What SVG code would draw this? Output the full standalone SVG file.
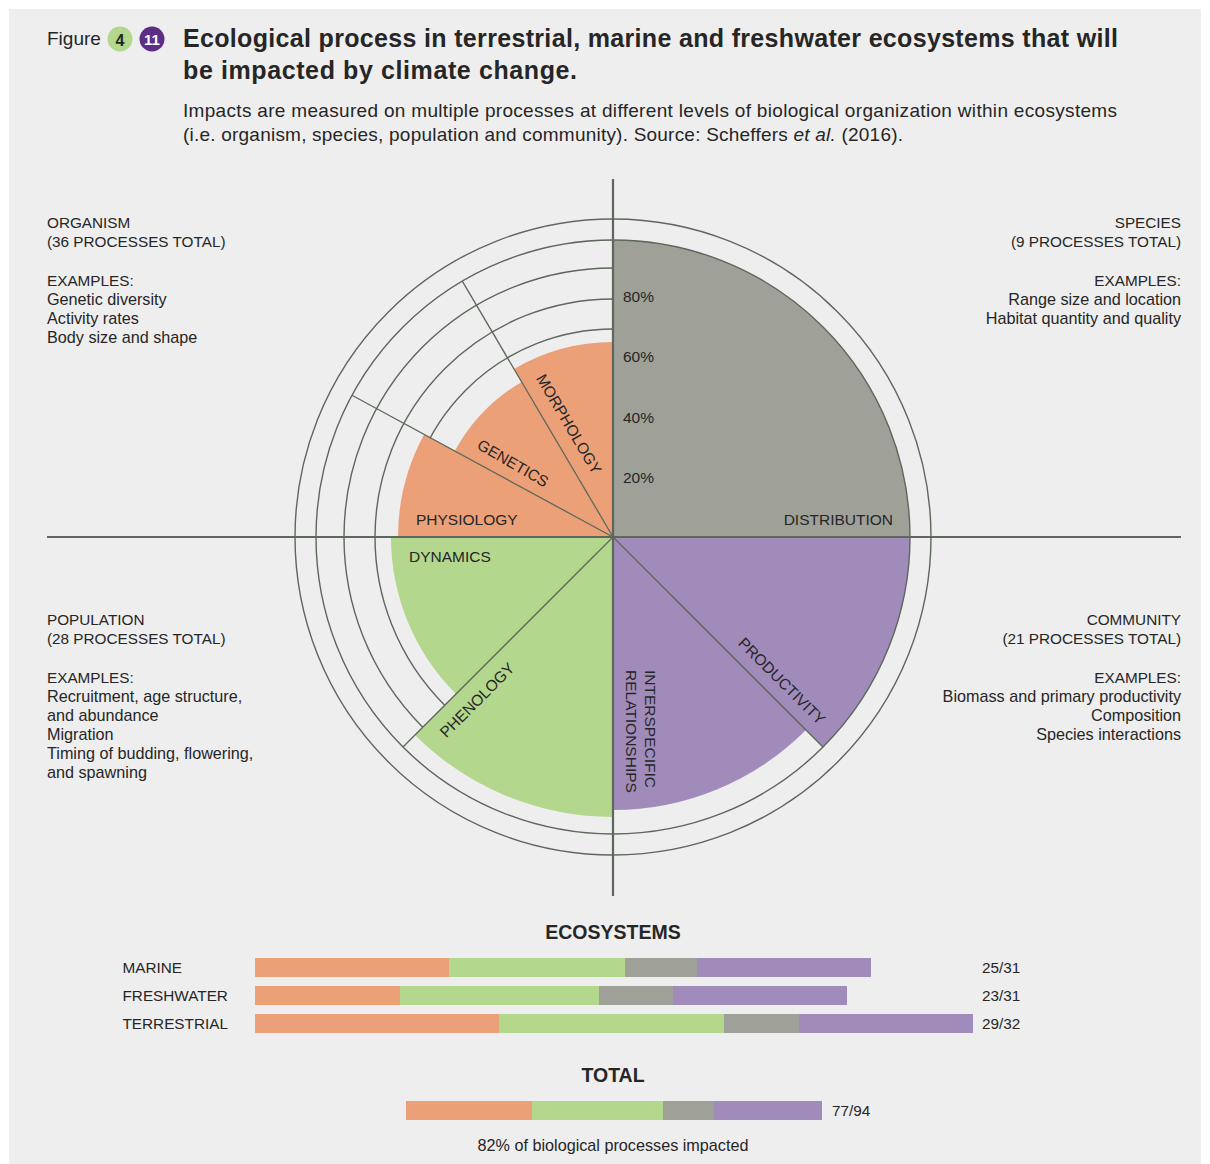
<svg xmlns="http://www.w3.org/2000/svg" width="1210" height="1164" viewBox="0 0 1210 1164">
<style>
text{font-family:"Liberation Sans",Arial,sans-serif;fill:#262626}
.lb{font-size:15.3px}
.lc{font-size:16.2px}
.pl{font-size:15.5px}
.hd{font-size:19.5px;font-weight:bold;text-anchor:middle}
.ring{fill:none;stroke:#5d675b;stroke-width:1.4}
.div{stroke:#5d675b;stroke-width:1.3;fill:none}
.axis{stroke:#5d675b;stroke-width:2.2;fill:none}
.or{fill:#eca078}.gr{fill:#b3d78c}.gy{fill:#9fa199}.pu{fill:#a08bbb}
.end{text-anchor:end}
</style>
<rect x="0" y="0" width="1210" height="1164" fill="#ffffff"/>
<rect x="9" y="9" width="1192" height="1155" fill="#eeeeee"/>

<g id="header">
  <text x="47" y="45" style="font-size:19px">Figure</text>
  <circle cx="120" cy="39" r="12.5" fill="#b3d78c"/>
  <text x="120" y="45.5" style="font-size:16px;font-weight:bold;text-anchor:middle">4</text>
  <circle cx="152" cy="39" r="12.5" fill="#5e2d84"/>
  <text x="152" y="45" style="font-size:15px;font-weight:bold;text-anchor:middle;fill:#ffffff">11</text>
  <text x="183" y="47" style="font-size:25px;font-weight:bold" textLength="935" lengthAdjust="spacing">Ecological process in terrestrial, marine and freshwater ecosystems that will</text>
  <text x="183" y="79" style="font-size:25px;font-weight:bold" textLength="394" lengthAdjust="spacing">be impacted by climate change.</text>
  <text x="183" y="117" style="font-size:19px" textLength="934" lengthAdjust="spacing">Impacts are measured on multiple processes at different levels of biological organization within ecosystems</text>
  <text x="183" y="141" style="font-size:19px" textLength="720" lengthAdjust="spacing">(i.e. organism, species, population and community). Source: Scheffers <tspan font-style="italic">et al.</tspan> (2016).</text>
</g>

<g id="rings-inner">
  <circle class="ring" cx="613" cy="537" r="208"/>
  <circle class="ring" cx="613" cy="537" r="238"/>
  <circle class="ring" cx="613" cy="537" r="269"/>
</g>

<g id="node-distribution">
  <path class="gy" d="M613,537 L613,240 A297,297 0 0 1 910,537 Z"/>
  <text class="pl end" x="893" y="525">DISTRIBUTION</text>
</g>
<g id="node-productivity">
  <path class="pu" d="M613,537 L910,537 A297,297 0 0 1 823,747 Z"/>
  <text class="pl" transform="translate(782,681) rotate(45)" text-anchor="middle" y="5.5">PRODUCTIVITY</text>
</g>
<g id="node-interspecific">
  <path class="pu" d="M613,537 L806,730 A273,273 0 0 1 613,810 Z"/>
  <text class="pl" transform="translate(645,670) rotate(90)"><tspan x="0" y="0">INTERSPECIFIC</tspan><tspan x="0" y="19">RELATIONSHIPS</tspan></text>
</g>
<g id="node-phenology">
  <path class="gr" d="M613,537 L613,817 A280,280 0 0 1 415,735 Z"/>
  <text class="pl" transform="translate(477,700) rotate(-45)" text-anchor="middle" y="5.5">PHENOLOGY</text>
</g>
<g id="node-dynamics">
  <path class="gr" d="M613,537 L456,694 A222,222 0 0 1 391,537 Z"/>
  <text class="pl" x="409" y="562">DYNAMICS</text>
</g>
<g id="node-physiology">
  <path class="or" d="M613,537 L398,537 A215,215 0 0 1 424.1,434.4 Z"/>
  <text class="pl" x="416" y="525">PHYSIOLOGY</text>
</g>
<g id="node-genetics">
  <path class="or" d="M613,537 L454.8,451.1 A180,180 0 0 1 521.6,381.9 Z"/>
  <text class="pl" transform="translate(513,463) rotate(30)" text-anchor="middle" y="5.5">GENETICS</text>
</g>
<g id="node-morphology">
  <path class="or" d="M613,537 L514,369 A195,195 0 0 1 613,342 Z"/>
  <text class="pl" transform="translate(569,424) rotate(59.5)" text-anchor="middle" y="5.5">MORPHOLOGY</text>
</g>

<g id="connectors">
  <circle class="ring" cx="613" cy="537" r="297"/>
  <circle class="ring" cx="613" cy="537" r="318"/>
  <line class="div" x1="613" y1="537" x2="352" y2="395.3"/>
  <line class="div" x1="613" y1="537" x2="462.3" y2="281.1"/>
  <line class="div" x1="613" y1="537" x2="403" y2="747"/>
  <line class="div" x1="613" y1="537" x2="823" y2="747"/>
  <line class="axis" x1="613" y1="179" x2="613" y2="896"/>
  <line class="axis" x1="47" y1="537" x2="1181" y2="537"/>
</g>

<g id="scale">
  <text class="pl" x="623" y="302">80%</text>
  <text class="pl" x="623" y="362">60%</text>
  <text class="pl" x="623" y="423">40%</text>
  <text class="pl" x="623" y="483">20%</text>
</g>

<g id="quad-organism">
  <text class="lb" x="47" y="228">ORGANISM</text>
  <text class="lb" x="47" y="247">(36 PROCESSES TOTAL)</text>
  <text class="lb" x="47" y="286">EXAMPLES:</text>
  <text class="lc" x="47" y="305">Genetic diversity</text>
  <text class="lc" x="47" y="324">Activity rates</text>
  <text class="lc" x="47" y="343">Body size and shape</text>
</g>
<g id="quad-species">
  <text class="lb end" x="1181" y="228">SPECIES</text>
  <text class="lb end" x="1181" y="247">(9 PROCESSES TOTAL)</text>
  <text class="lb end" x="1181" y="286">EXAMPLES:</text>
  <text class="lc end" x="1181" y="305">Range size and location</text>
  <text class="lc end" x="1181" y="324">Habitat quantity and quality</text>
</g>
<g id="quad-population">
  <text class="lb" x="47" y="625">POPULATION</text>
  <text class="lb" x="47" y="644">(28 PROCESSES TOTAL)</text>
  <text class="lb" x="47" y="683">EXAMPLES:</text>
  <text class="lc" x="47" y="702">Recruitment, age structure,</text>
  <text class="lc" x="47" y="721">and abundance</text>
  <text class="lc" x="47" y="740">Migration</text>
  <text class="lc" x="47" y="759">Timing of budding, flowering,</text>
  <text class="lc" x="47" y="778">and spawning</text>
</g>
<g id="quad-community">
  <text class="lb end" x="1181" y="625">COMMUNITY</text>
  <text class="lb end" x="1181" y="644">(21 PROCESSES TOTAL)</text>
  <text class="lb end" x="1181" y="683">EXAMPLES:</text>
  <text class="lc end" x="1181" y="702">Biomass and primary productivity</text>
  <text class="lc end" x="1181" y="721">Composition</text>
  <text class="lc end" x="1181" y="740">Species interactions</text>
</g>

<g id="ecosystems">
  <text class="hd" x="613" y="939">ECOSYSTEMS</text>
  <text class="lb" x="122.5" y="973">MARINE</text>
  <rect class="or" x="255" y="958" width="194" height="19"/>
  <rect class="gr" x="449" y="958" width="176" height="19"/>
  <rect class="gy" x="625" y="958" width="72" height="19"/>
  <rect class="pu" x="697" y="958" width="174" height="19"/>
  <text class="lb" x="982" y="973">25/31</text>
  <text class="lb" x="122.5" y="1001">FRESHWATER</text>
  <rect class="or" x="255" y="986" width="145" height="19"/>
  <rect class="gr" x="400" y="986" width="199" height="19"/>
  <rect class="gy" x="599" y="986" width="74" height="19"/>
  <rect class="pu" x="673" y="986" width="174" height="19"/>
  <text class="lb" x="982" y="1001">23/31</text>
  <text class="lb" x="122.5" y="1029">TERRESTRIAL</text>
  <rect class="or" x="255" y="1014" width="244" height="19"/>
  <rect class="gr" x="499" y="1014" width="225" height="19"/>
  <rect class="gy" x="724" y="1014" width="75" height="19"/>
  <rect class="pu" x="799" y="1014" width="174" height="19"/>
  <text class="lb" x="982" y="1029">29/32</text>
</g>

<g id="total">
  <text class="hd" x="613" y="1082">TOTAL</text>
  <rect class="or" x="406" y="1101" width="126" height="19"/>
  <rect class="gr" x="532" y="1101" width="131" height="19"/>
  <rect class="gy" x="663" y="1101" width="51" height="19"/>
  <rect class="pu" x="714" y="1101" width="108" height="19"/>
  <text class="lb" x="832" y="1116">77/94</text>
  <text class="lc" x="613" y="1151" text-anchor="middle">82% of biological processes impacted</text>
</g>
</svg>
